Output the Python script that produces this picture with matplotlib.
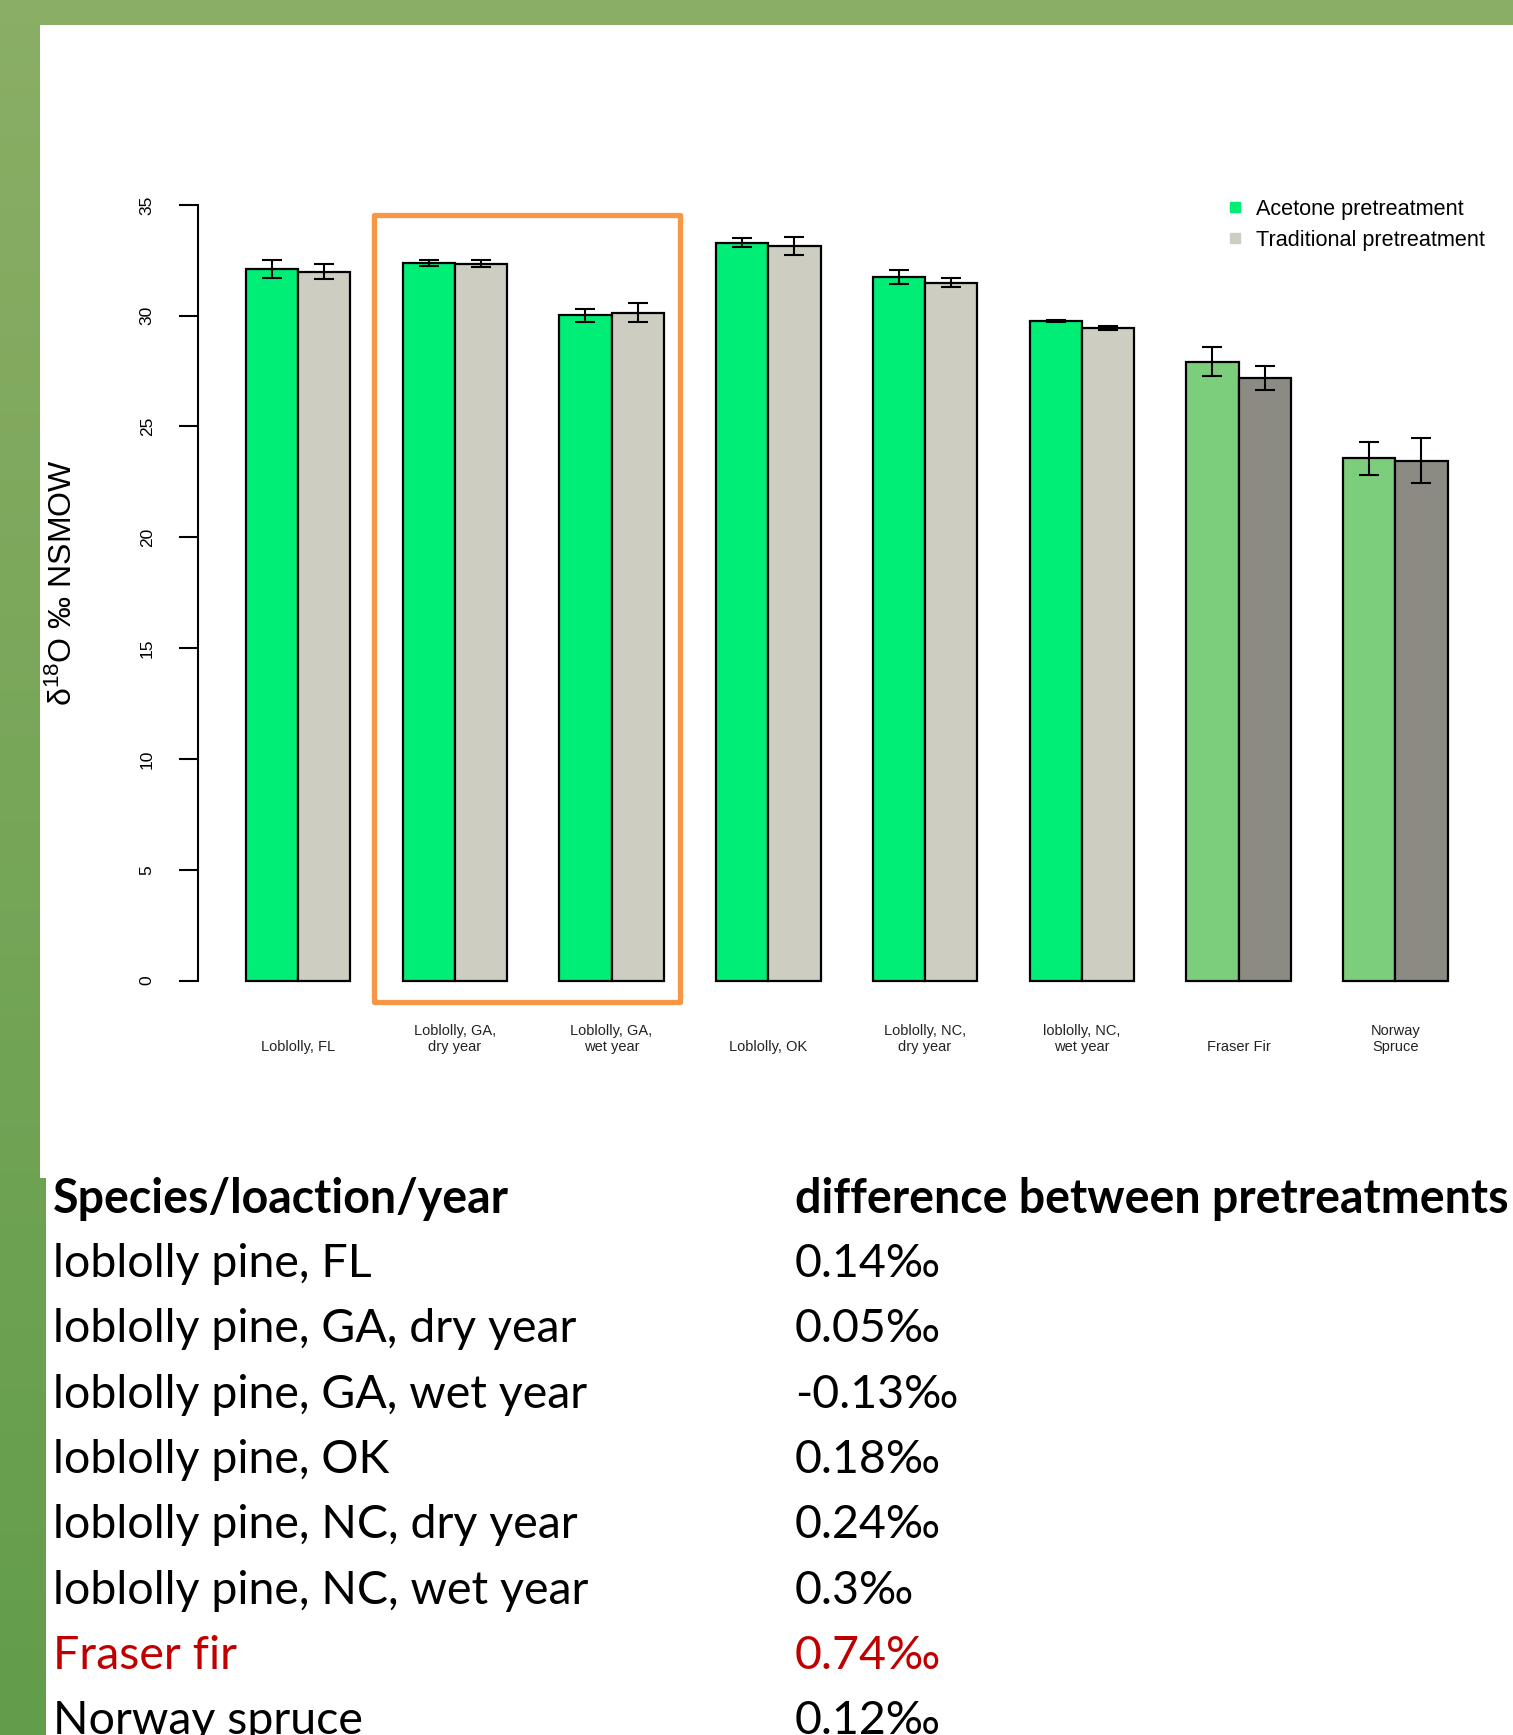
import numpy as np
import matplotlib
matplotlib.use("Agg")
import matplotlib.pyplot as plt
from matplotlib.lines import Line2D
from matplotlib.patches import Rectangle

plt.rcParams["font.family"] = ["Liberation Sans", "DejaVu Sans"]
plt.rcParams["mathtext.fontset"] = "custom"
plt.rcParams["mathtext.rm"] = "Liberation Sans"
plt.rcParams["mathtext.it"] = "Liberation Sans:italic"

# ---- chart data ----
groups = ["Loblolly, FL", "Loblolly, GA,\ndry year", "Loblolly, GA,\nwet year",
          "Loblolly, OK", "Loblolly, NC,\ndry year", "loblolly, NC,\nwet year",
          "Fraser Fir", "Norway\nSpruce"]
acetone = [32.11, 32.38, 30.01, 33.30, 31.73, 29.76, 27.93, 23.56]
acetone_err = [0.42, 0.14, 0.30, 0.21, 0.32, 0.05, 0.67, 0.76]
traditional = [31.98, 32.35, 30.13, 33.13, 31.49, 29.45, 27.20, 23.45]
traditional_err = [0.33, 0.14, 0.43, 0.41, 0.20, 0.10, 0.54, 1.02]
series_names = ["Acetone pretreatment", "Traditional pretreatment"]
yticks = [0, 5, 10, 15, 20, 25, 30, 35]

# ---- table data ----
table_header = ["Species/loaction/year", "difference between pretreatments"]
species = ["loblolly pine, FL", "loblolly pine, GA, dry year", "loblolly pine, GA, wet year",
           "loblolly pine, OK", "loblolly pine, NC, dry year", "loblolly pine, NC, wet year",
           "Fraser fir", "Norway spruce"]
differences = ["0.14\u2030", "0.05\u2030", "-0.13\u2030", "0.18\u2030", "0.24\u2030",
               "0.3\u2030", "0.74\u2030", "0.12\u2030"]
highlight_row = 6

GREEN = "#00EE76"
GREY = "#CDCDC1"
GREEN_DIM = "#7CCD7C"
GREY_DIM = "#8B8B83"

W, H = 1513, 1735
fig = plt.figure(figsize=(W / 100, H / 100), dpi=100)
fig.patch.set_facecolor("white")

# slide background: green bands
bg = fig.add_axes([0, 0, 1, 1], zorder=-5)
bg.axis("off")
top_c = np.array([138, 174, 101]) / 255
bot_c = np.array([98, 157, 75]) / 255
t = np.linspace(0, 1, 256)[:, None, None]
grad = top_c * (1 - t) + bot_c * t
bg.imshow(grad, extent=[0, 46, H, 0], aspect="auto")
bg.add_patch(Rectangle((40, 25), 6, 1153, color="white", lw=0))
bg.add_patch(Rectangle((0, 0), W, 25, color=(138 / 255, 174 / 255, 101 / 255), lw=0))
bg.set_xlim(0, W)
bg.set_ylim(H, 0)

# ---- bar chart ----
ax = fig.add_axes([197.7 / W, 1 - 1011.6 / H, (1495.6 - 197.7) / W, (1011.6 - 173.8) / H])
ax.patch.set_alpha(0)
n = len(groups)
x0 = 1 + 3 * np.arange(n)
colors_a = [GREEN] * 6 + [GREEN_DIM] * 2
colors_t = [GREY] * 6 + [GREY_DIM] * 2
ax.bar(x0, acetone, width=1, align="edge", color=colors_a, edgecolor="black", linewidth=1.6, zorder=2)
ax.bar(x0 + 1, traditional, width=1, align="edge", color=colors_t, edgecolor="black", linewidth=1.6, zorder=2)
ax.errorbar(x0 + 0.5, acetone, yerr=acetone_err, fmt="none", ecolor="black",
            elinewidth=1.5, capsize=7, capthick=1.5, zorder=3)
ax.errorbar(x0 + 1.5, traditional, yerr=traditional_err, fmt="none", ecolor="black",
            elinewidth=1.5, capsize=7, capthick=1.5, zorder=3)

ax.set_xlim(0.08, 24.92)
ax.set_ylim(-1.4, 36.4)
for s in ["top", "right", "bottom"]:
    ax.spines[s].set_visible(False)
ax.spines["left"].set_bounds(0, 35)
ax.spines["left"].set_linewidth(1.5)
ax.set_yticks(yticks)
ax.set_yticklabels([str(v) for v in yticks], rotation=90, va="center", fontsize=12.5)
ax.tick_params(axis="y", length=14, width=1.5, pad=17)
ax.set_xticks([])

for xc, lab in zip(x0 + 1, groups):
    ax.text(xc, -3.3, lab, ha="center", va="bottom", fontsize=10.5, linespacing=1.2,
            color="#222222", clip_on=False)

# orange highlight around the GA groups
bx0 = x0[1] - 0.55
bx1 = x0[2] + 2 + 0.32
box = Rectangle((bx0, -0.95), bx1 - bx0, 35.5, fill=False, edgecolor="#F79646",
                linewidth=3.8, joinstyle="round", clip_on=False, zorder=4)
ax.add_patch(box)

fig.text(63 / W, 1 - 583 / H, r"$\mathrm{\delta}^{18}$O ‰ NSMOW", rotation=90,
         ha="center", va="center", fontsize=23)

handles = [Line2D([], [], ls="none", marker="s", markersize=6.5, color=GREEN),
           Line2D([], [], ls="none", marker="s", markersize=6.5, color=GREY)]
fig.legend(handles, series_names, loc="upper left", bbox_to_anchor=(1228 / W, 1 - 199 / H),
           frameon=False, fontsize=15.6, handlelength=0.6, handletextpad=0.7,
           labelspacing=0.45, borderpad=0, borderaxespad=0)

# ---- table below ----
row_y = 1198.7
pitch = 65.3
tfont = ["Lato", "DejaVu Sans"]
fig.text(53 / W, 1 - row_y / H, table_header[0], fontsize=33.5, fontweight="bold",
         family=tfont, va="center", ha="left")
fig.text(794.7 / W, 1 - row_y / H, table_header[1], fontsize=33.5, fontweight="bold",
         family=tfont, va="center", ha="left")
for i, (sp, d) in enumerate(zip(species, differences)):
    y = row_y + pitch * (i + 1)
    c = "#C00000" if i == highlight_row else "black"
    fig.text(53 / W, 1 - y / H, sp, fontsize=33.5, color=c,
             family=tfont, va="center", ha="left")
    fig.text(794.7 / W, 1 - y / H, d, fontsize=33.5, color=c,
             family=tfont, va="center", ha="left")

fig.savefig("out.png", dpi=100)
